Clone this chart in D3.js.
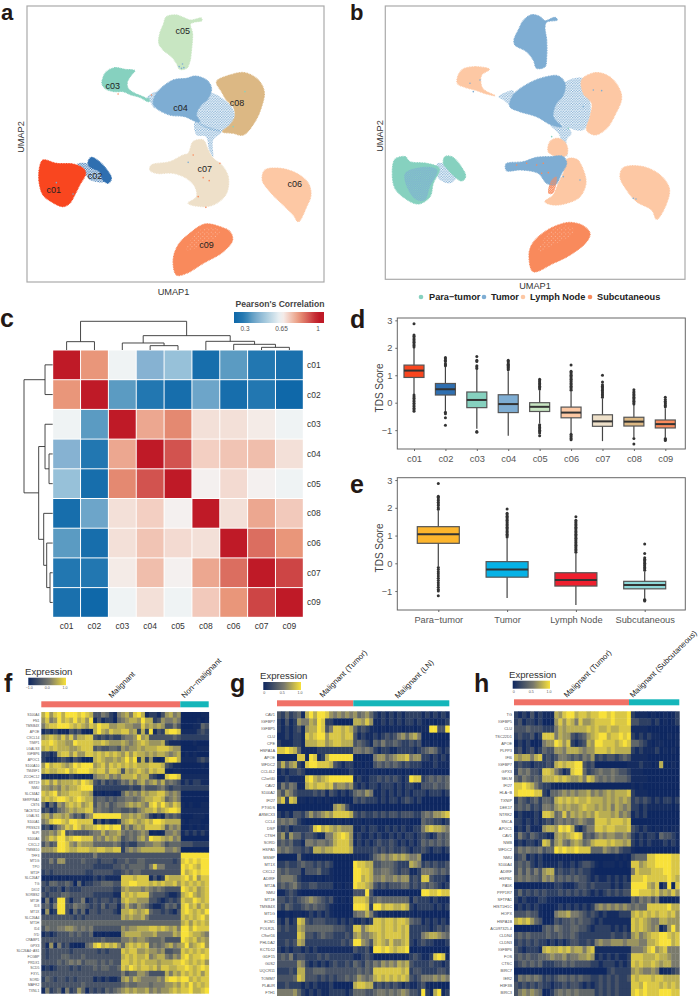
<!DOCTYPE html>
<html><head><meta charset="utf-8">
<script src="https://cdn.jsdelivr.net/npm/d3@7/dist/d3.min.js"></script>
<style>html,body{margin:0;padding:0;background:#fff}svg{display:block}text{font-family:"Liberation Sans",Arial,sans-serif}</style>
</head><body><svg id="c" width="700" height="996"></svg>
<script>
// ---------- UMAP colours
const cGreen='#86d1bf',cBlue='#7eadd3',cPeach='#fdc8a4',cOrange='#f98a5c';
const clusterColors={c01:'#f9461f',c02:'#2f6fb0',c03:cGreen,c04:cBlue,c05:'#c8e6c2',c06:cPeach,c07:'#eee0c9',c08:'#dcb884',c09:cOrange};
// ---------- UMAP panel a outlines (UMAP units)
const umapA=[
 ['c05','#c8e6c2',[[500,50],[530,45],[550,52],[570,60],[590,57],[604,54],[606,62],[585,66],[572,72],[578,100],[575,150],[570,185],[560,205],[540,208],[530,190],[515,170],[490,150],[477,130],[480,100],[490,75]]],
 ['c03',cGreen,[[320,215],[345,203],[375,208],[405,212],[395,225],[383,245],[385,265],[405,280],[425,288],[450,302],[445,305],[420,292],[395,285],[370,275],[345,275],[320,268],[307,252],[310,232]]],
 ['c07','#eee0c9',[[580,425],[610,420],[625,450],[640,475],[665,495],[685,530],[680,580],[650,610],[615,620],[565,610],[590,590],[585,560],[560,535],[520,520],[470,520],[450,510],[455,495],[510,485],[550,465],[565,460]]],
 ['c08','#dcb884',[[650,245],[690,225],[735,218],[775,240],[793,275],[785,320],[765,365],[730,405],[700,400],[668,395],[690,375],[705,350],[700,320],[680,300],[665,275]]],
 ['c04',cBlue,[[470,280],[520,240],[560,235],[585,228],[620,240],[635,265],[625,295],[600,320],[590,345],[600,365],[590,365],[555,350],[510,345],[470,325],[460,310]]],
 ['c06',cPeach,[[795,510],[840,505],[890,520],[925,550],[933,585],[920,620],[895,665],[880,645],[850,615],[810,575],[787,540]]],
 ['c09',cOrange,[[615,672],[660,680],[690,695],[698,720],[670,755],[610,790],[560,820],[530,825],[520,780],[535,735],[570,700]]],
 ['c01','#f9461f',[[130,480],[170,490],[220,492],[250,505],[258,520],[240,555],[225,585],[210,610],[190,620],[155,605],[130,585],[118,545],[120,500]]],
 ['c02','#2f6fb0',[[275,472],[295,482],[320,508],[335,535],[325,550],[310,540],[300,515],[270,500],[265,485]]]
];
const sparseA=[
 [cBlue,[[600,320],[630,280],[660,290],[695,320],[705,350],[690,380],[660,395],[620,385],[590,365],[590,345]]],
 [cBlue,[[585,365],[625,380],[665,395],[640,420],[640,470],[628,450],[618,410],[590,405]]],
 [cBlue,[[440,295],[470,275],[465,325],[450,305]]],
 ['#2f6fb0',[[232,492],[265,490],[305,520],[315,545],[270,540],[255,520]]]
];
const holesA=[[[600,690],[650,685],[660,700],[600,740],[560,750]]];
const straysA=[[355,282,'#f98a5c'],[565,487,cBlue],[660,490,cOrange],[610,533,cOrange],[628,542,cOrange],[595,590,cOrange],[618,622,cOrange],[580,465,cOrange],[170,548,cBlue],[220,582,cBlue],[735,275,cGreen],[700,380,cGreen],[455,285,cOrange],[447,295,cGreen],[545,205,cBlue],[552,203,cBlue],[538,200,cBlue],[548,192,cBlue]];
const labelsA=[['c01',162,570],['c02',286,529],['c03',339,257],['c04',542,323],['c05',549,93],['c06',884,552],['c07',615,508],['c08',711,310],['c09',620,735]];
// ---------- UMAP panel b outlines
const umapB=[
 [cBlue,[[520,62],[545,44],[570,50],[585,62],[615,52],[622,60],[590,66],[585,80],[590,120],[590,170],[585,200],[560,205],[550,180],[530,155],[495,135],[492,120],[505,90]]],
 [cPeach,[[340,207],[375,200],[418,208],[395,225],[393,250],[400,268],[435,287],[410,282],[375,270],[345,262],[322,250],[325,225]]],
 [cPeach,[[695,240],[735,218],[775,228],[805,260],[815,295],[795,345],[770,385],[735,405],[710,390],[720,350],[725,310],[700,280]]],
 [cBlue,[[490,285],[540,248],[590,230],[625,228],[645,250],[640,285],[620,310],[610,350],[635,380],[605,375],[560,350],[510,335],[480,320]]],
 [cPeach,[[600,425],[625,415],[650,435],[650,465],[625,470],[595,455]]],
 [cPeach,[[650,478],[680,478],[700,510],[708,550],[690,590],[650,610],[610,615],[585,605],[610,585],[625,550],[640,520]]],
 [cBlue,[[468,492],[520,485],[560,472],[600,470],[640,470],[650,490],[635,520],[615,555],[590,550],[565,520],[510,510],[470,512]]],
 [cPeach,[[820,503],[880,500],[930,525],[958,565],[950,610],[920,658],[905,630],[860,605],[830,570],[810,530]]],
 [cOrange,[[650,668],[695,675],[720,700],[710,725],[660,765],[610,790],[550,815],[537,770],[545,735],[585,695]]],
 [cGreen,[[135,478],[165,470],[180,485],[230,490],[268,505],[250,550],[240,590],[205,612],[165,595],[135,565],[127,520]]],
 [cGreen,[[285,470],[305,470],[330,495],[347,530],[335,543],[315,530],[295,510],[280,490]]]
];
const sparseB=[
 [cBlue,[[640,250],[700,235],[720,300],[720,350],[700,390],[660,385],[610,350],[625,300]]],
 [cBlue,[[600,375],[650,380],[665,400],[650,420],[652,470],[640,440],[625,400]]],
 [cBlue,[[445,290],[490,272],[485,320],[460,300]]],
 [cBlue,[[165,520],[230,500],[262,510],[240,560],[225,600],[200,600],[175,570]]],
 [cBlue,[[262,490],[290,495],[320,530],[300,550],[265,535]]],
 [cOrange,[[595,580],[605,540],[620,530],[612,575],[605,582]]]
];
const holesB=[[[610,685],[665,680],[670,700],[610,735],[565,755]]];
const straysB=[[500,495,cOrange],[530,490,cOrange],[560,495,cOrange],[580,490,cOrange],[575,520,cOrange],[595,518,cOrange],[640,530,cBlue],[690,540,cBlue],[850,595,cBlue],[858,597,cBlue],[730,270,cBlue],[755,272,cBlue],[700,320,cBlue],[390,240,cBlue],[360,250,cBlue],[370,275,cBlue],[605,410,cGreen],[655,385,cGreen]];
const legendB=[['Para−tumor',cGreen,421,429],['Tumor',cBlue,484,491],['Lymph Node',cPeach,523,530],['Subcutaneous',cOrange,590,597]];
// ---------- correlation heatmap
const corrNames=['c01','c02','c03','c04','c05','c08','c06','c07','c09'];
const corrValues=[
 [1,.82,.64,.43,.47,.23,.36,.27,.24],
 [.82,1,.36,.27,.23,.39,.23,.27,.2],
 [.64,.36,1,.79,.84,.69,.69,.67,.64],
 [.43,.27,.79,1,.92,.72,.74,.75,.69],
 [.47,.23,.84,.92,1,.66,.7,.66,.64],
 [.23,.39,.69,.72,.66,1,.69,.79,.73],
 [.36,.23,.69,.74,.7,.69,1,.88,.82],
 [.27,.27,.67,.75,.66,.79,.88,1,.94],
 [.24,.2,.64,.69,.64,.73,.82,.94,1]];
const corrTicks=[0.3,0.65,1];
// dendrogram merges: [leafA, heightA, leafB, heightB, height]
const dendroTop=[[0,0,1,0,25],[3,0,4,0,13],[2,0,3.5,13,21],[7,0,8,0,8],[6,0,7.5,8,17],[5,0,6.75,17,26],[2.75,21,5.875,26,43],[.5,25,4.31,43,86]];
const dendroLeft=[[0,0,1,0,23],[3,0,4,0,11],[2,0,3.5,11,23],[7,0,8,0,8],[6,0,7.5,8,18],[5,0,6.75,18,27],[2.75,23,5.875,27,42],[.5,23,4.31,42,86]];
// ---------- box plots: name, q1, median, q3, whisker low, whisker high, outliers
const boxD=[
 ['c01',.92,1.17,1.37,.3,2.0,[2.88,2.47,2.42,2.36,2.3,2.25,2.2,2.14,2.08,2.03,.28,.22,.16,.1,.04,-.02,-.08,-.14,-.2,-.26,-.31]],
 ['c02',.28,.49,.7,-.3,1.3,[1.35,1.38,1.42,1.5,1.55,1.6,1.65,-.35,-.4,-.55,-.82]],
 ['c03',-.18,.1,.39,-.95,1.2,[1.25,1.3,1.35,1.5,1.55,1.68,-1.05,-1.08]],
 ['c04',-.36,-.05,.29,-1.2,1.15,[1.2,1.24,1.28,1.32,1.36,1.4,1.45,1.5,1.55]],
 ['c05',-.32,-.15,0,-.75,.45,[.5,.55,.6,.65,.7,.75,.8,.85,-.8,-.85,-.9,-.95,-1,-1.05,-1.1,-1.2]],
 ['c06',-.55,-.36,-.16,-1.1,.4,[.45,.5,.55,.6,.65,.7,.75,.8,.85,.9,.95,1,1.05,1.1,1.15,1.37,-1.15,-1.2,-1.25,-1.3,-1.35]],
 ['c07',-.86,-.68,-.44,-1.4,.15,[.2,.25,.3,.35,.4,.45,.5,.55,.6,.65,.75,1.0]],
 ['c08',-.85,-.69,-.53,-1.25,-.08,[-.05,0,.05,.1,.15,.2,.25,.3,.35,.4,.47,-1.3,-1.5]],
 ['c09',-.92,-.78,-.63,-1.25,-.2,[-.15,-.1,-.05,0,.05,.12,.2,-1.3,-1.34,-1.38]]
];
const boxE=[
 ['Para−tumor',.72,1.05,1.32,-.1,1.9,[2.88,2.42,2.38,2.32,2.26,2.2,2.14,2.08,2.0,1.95,-.15,-.22,-.3,-.38,-.46,-.54,-.62,-.7,-.78,-.86,-.94,-1.0,-1.17]],
 ['Tumor',-.5,-.22,.06,-1.25,.9,[.95,1,1.05,1.1,1.15,1.2,1.25,1.3,1.35,1.4,1.45,1.5,1.55,1.6,1.65,1.7,1.75,1.8,1.96]],
 ['Lymph Node',-.82,-.6,-.34,-1.5,.35,[.4,.45,.5,.55,.6,.65,.7,.75,.8,.85,.9,.95,1,1.05,1.1,1.15,1.2,1.25,1.3,1.35,1.4,1.45,1.5,1.55,1.68]],
 ['Subcutaneous',-.92,-.78,-.65,-1.25,-.3,[-.25,-.2,-.15,-.1,-.05,0,.05,.1,.15,.2,.35,.7,-1.3,-1.33,-1.36]]
];
const boxColorsE=['#fdb52d','#06b2e6','#ee1f2e','#8ed8d8'];
const scoreTicks=[-1,0,1,2,3];
// ---------- expression heatmaps (one digit per cell, 0 low .. 9 high)
const fGenes=['S100A4','FN1','TMSB4X','APOE','CXCL14','TIMP1','LGALS3','IGFBP6','APOC1','S100A10','TM4SF1','ZCCHC12','KRT19','NMU','SLC34A2','SERPINA1','CST6','TACSTD2','LGALS1','S100A1','PRSS23','SLPI','S100A6','CXCL2','TMSB10','TFF3','MT1G','TPO','MT1F','SLC26A7','TG','DIO2','SORBS2','MT1E','ID3','MT1X','SLC26A4','MT1H','ID4','IYD','CRABP1','GPX3','SLC26A4−AS1','FCGBP','PRDX1','SCD5','FXYL','SORD','MAFK2','TXNL1'];
const fRows=[
"7968979998987 3354215 6758971 2213 6756 0000011",
"6856978797869 1312204 5677697 7236 5565 0000101",
"5788999878768 7988667 7665586 7676 3353 0001143",
"1212010323100 7976877 8867272 9132 8998 1111232",
"6787686857788 3232322 4556967 3333 3343 2222222",
"8898776698888 7787666 7656787 6667 2111 0001000",
"7878777667888 3433443 6566767 7788 8766 0000111",
"2212788686688 7878787 6868776 7677 6567 0101000",
"2101232132000 7876676 7979272 6101 8997 1111232",
"6978876798999 6786878 7878777 8887 3211 0000010",
"7877889789998 7886887 3767876 8788 1011 0000000",
"1011011211010 5667565 7778677 3211 8998 1111111",
"7868677787987 3242323 5464675 6757 4543 1212211",
"6656576778999 2222222 2232253 3345 3233 2222222",
"8789677888776 0101101 4656576 7788 6565 0000000",
"7878998789877 3443434 4554567 7887 4565 0000000",
"4142657878678 3545345 5676765 8979 7687 1010011",
"2312456767788 4544344 3343567 7867 8998 1111111",
"6757767534256 9999999 6676765 2121 4343 0001110",
"5689987998888 0302112 6787678 7998 7777 1011100",
"2313568798677 8989899 4646768 8887 4656 0010101",
"5565793433334 5575667 5454565 0101 5565 1212121",
"5687997899888 5657676 3454675 9887 6756 0000000",
"3534998657666 4444454 2322445 5665 3444 3332222",
"6667998778887 7887788 2565677 7777 5565 0000000",
"3333333333333 5333333 3333333 3333 3333 9999999",
"3353663333433 3233323 3433443 3333 3323 8989899",
"3333333333333 2222233 4344443 5855 3333 9898799",
"2323333333322 3333322 3434433 3333 3333 9789899",
"0101010111101 2121111 8887888 1312 8777 8979688",
"3244334304122 3344433 8899888 7878 7786 8787878",
"2322313222333 3333322 6766656 5454 3333 9878678",
"3233344333333 2222211 8787888 4333 2112 7897678",
"1513993133512 3233232 7877666 3321 2323 8779878",
"3425993354432 3242331 5754654 2112 4342 8978687",
"1612993142413 3233321 7787678 4332 3213 8987879",
"3333333323233 3333333 7676675 3333 3333 8787897",
"4444444444444 4444444 4444444 4444 4444 7868787",
"3544556654545 3333333 6566777 8878 7675 9979888",
"1212333434334 0101000 6777766 6755 5576 9987765",
"3333333333333 3343333 5565665 4445 3333 9878676",
"3161523100145 8978786 4787878 4545 6756 7967896",
"3233333233333 3232333 8788667 6656 3344 8787878",
"3233344333433 3333333 7878778 5677 5465 8978898",
"3333434545344 4343433 8878787 7767 7788 9878786",
"1212333232333 4344334 8798788 7868 8778 8987898",
"3333333333333 3333333 5344665 3333 7576 8787868",
"2432332323333 1212112 6757655 5565 8998 9978788",
"3333333333433 3333333 4544555 4555 6676 8797878",
"1523415236413 2324345 6767667 5656 6787 8897789"];
const gGenes=['CAV1','IGFBP7','IGFBP5','CLU','CPE','HSPA1A','APOE','WFDC2','CCL4L2','C2orf40','CAV2','S100A2','IFI27','PTGDS','ARMCX3','CCL4','DSP','CTSH','SORD','HSPA5','MSMP','MT1X','CXCL2','ADIRF','MT2A','NMU','MT1E','TMSB4X','MT1G','ECM1','POLR2L','C9orf16','PHLDA2','KCTD12','GDF15','G0S2','UQCR11','TOMM7','PLAUR','FTH1'];
const gRows=[
"32423 41 7979986 56565 64564 212121212 222 1212121",
"21312 65 5769822 00000 77686 112121212 212 1010112",
"21212 31 6779835 88787 42321 101011101 101 1199339",
"11212 21 8789968 88788 31211 212323564 675 0000000",
"21112 21 7778867 88777 34321 435334322 323 0101001",
"88987 41 1112222 22222 55454 212211222 212 3454212",
"00000 88 1981279 99999 00000 566456778 566 2212121",
"47467 21 8998887 32122 01010 343434323 222 1112111",
"12122 32 0000000 00112 10101 101010101 010 0010000",
"11211 11 8976789 99999 12112 232323212 988 2343434",
"25354 11 7878878 56656 21212 212221212 211 3334334",
"53653 22 2232313 21212 45465 112121212 122 2122212",
"68287 11 0101010 00000 32322 212122123 212 0000000",
"00000 00 0000000 67631 00000 000000000 000 0000000",
"21213 32 4645676 88887 32322 323233233 322 4546678",
"45454 21 0000000 01010 11011 000000011 000 4332212",
"32312 22 2389787 67666 11212 211212121 122 5787765",
"46264 42 3321155 78986 12112 121121212 212 3212434",
"34342 21 5545545 78886 12121 232232121 212 4343434",
"54543 32 3277677 88887 22222 323232232 122 3212212",
"00000 41 0000000 00000 11112 456567676 556 0000000",
"22322 34 3323232 00000 98877 334443222 765 2323223",
"43433 31 3334221 00000 99887 445543233 112 5554343",
"45554 21 1101011 00000 99787 556556566 232 8832221",
"34345 32 2332222 01011 98876 323233344 232 4343212",
"11232 10 0000000 00000 33393 000000000 000 9988988",
"33232 34 5654323 10101 88873 454444444 132 2212111",
"32432 23 4343321 00000 99982 997887787 212 2221212",
"00101 10 1212121 00000 45575 211010011 101 0000000",
"21312 87 3233322 21212 11212 887887887 433 1212121",
"32322 76 4444444 33322 88578 887887878 222 2212323",
"22222 87 3323433 22232 67556 787888878 222 5677654",
"22323 76 2222222 22323 99653 787686678 212 3221112",
"21212 21 2121111 11111 32231 998987889 001 0000000",
"34352 33 2223232 22222 11232 000010101 232 1128981",
"33333 65 2121212 32232 43243 546565767 322 2232212",
"22232 77 3344433 33333 34343 888888878 233 2222332",
"33334 87 3332323 23343 46545 787878787 323 5556565",
"22322 21 2121112 00000 78877 232323212 112 3101000",
"55556 42 1212112 22212 44433 455454565 332 9217912"];
const hGenes=['TG','IGFBP5','CLU','TSC22D1','APOE','PLPP3','IFI6','IGFBP7','GPX3','SELM','IFI27','HLA−B','TXNIP','DEK17','NTRK2','SNCA','APOC1','CAV1','NMB','WFDC2','NMU','S100A4','ADIRF','HSPB1','PA5K','PPP1R7','SFTPA1','HIST1H1C','HOPX','HSPA1B','AC097325.4','CLDN4','CLDN3','IGFBP6','FOS','CTSC','BIRC7','IER2','H3F3B','BIRC3'];
const hRows=[
"2121312 111 7689978878 899898889 2111 010 01012",
"2312212 000 6868758667 888898889 3322 212 01012",
"3334333 222 5767777787 877877888 1111 000 00000",
"2322312 888 5766323467 899788989 2121 211 00101",
"1212001 566 9868212376 998887898 4432 101 10001",
"2312312 433 6657776566 888787777 2121 112 01010",
"7677578 232 3554343546 232332343 1111 000 00000",
"2322122 232 7878899323 000000001 1121 101 70010",
"2545332 887 5312899423 454454332 1110 000 00000",
"4354343 777 8787667587 545454443 1111 000 00000",
"8898753 221 0000000000 000000000 1010 000 00000",
"8999988 214 4565656675 656767778 2111 000 00000",
"2432342 443 7878787787 776767676 2323 212 12212",
"3434232 554 6767667877 676757656 2212 111 11101",
"1211121 887 4585767676 877767565 1212 000 00000",
"2212121 232 4545456544 888788878 0000 000 00000",
"1213111 677 6989721355 887887778 3212 101 01011",
"2532432 211 6767898343 565665565 2121 221 43321",
"1212212 873 6754676457 888787767 2121 211 12121",
"3545445 344 9898898884 446545322 1000 000 00000",
"2341212 000 0000000000 000001010 3444 889 99988",
"3434212 111 1211212332 101110101 8867 889 99988",
"3535353 677 2322323221 000000000 5877 788 89988",
"4545443 656 3434343321 211212121 8889 888 88987",
"0000000 111 2211123323 222212122 9999 768 02908",
"2423232 322 2323232321 212323233 9988 878 67686",
"2121112 211 0000000000 000000000 4354 535 00001",
"1212121 000 1212121212 565656565 4544 888 88977",
"3334331 000 5667554323 212111222 7878 787 88786",
"7878643 001 3233434332 121111111 8787 655 77666",
"0000000 343 5433443321 222212121 8787 656 02696",
"3434333 343 3433432222 222232232 6756 788 99878",
"2323232 212 1212332232 565566656 6655 778 99978",
"3212221 787 7878677578 111111111 5556 896 78555",
"3434334 456 5564556676 121212112 8887 778 77655",
"2343434 222 3343433332 212221212 8787 787 67755",
"0000000 000 0000000000 000232222 6765 565 01123",
"2545454 232 3443434332 232323223 8788 878 87777",
"3232323 221 2232332121 232323222 8879 888 78787",
"3565654 012 4545454444 232323222 8989 888 99988"];

// ================= drawing
const svg=d3.select('#c');
const defs=svg.append('defs');
const FS='"Liberation Sans",Arial,sans-serif';
function txt(g,s,x,y,o={}){const t=g.append('text').attr('x',x).attr('y',y).text(s)
  .attr('font-size',o.fs||9).attr('fill',o.fill||'#333').attr('text-anchor',o.anchor||'start')
  .attr('font-weight',o.weight||'normal');if(o.rot!=null)t.attr('transform',`rotate(${o.rot} ${x} ${y})`);return t;}
// panel letters
[['a',1,20,22],['b',350,20,22],['c',0,327,25],['d',350,328,25],['e',350,493,25],['f',4,692,25],['g',230,692,25],['h',474,692,25]]
 .forEach(([s,x,y,fs])=>txt(svg,s,x,y,{fs,weight:'bold',fill:'#231815'}));

// dotted fill patterns
let patId=0;
function dotPattern(color,size=2.6,r=.75){const id='p'+(patId++);const p=defs.append('pattern').attr('id',id)
  .attr('patternUnits','userSpaceOnUse').attr('width',size).attr('height',size);
  p.append('circle').attr('cx',size/4).attr('cy',size/4).attr('r',r).attr('fill',color);
  p.append('circle').attr('cx',size*3/4).attr('cy',size*3/4).attr('r',r).attr('fill',color);
  return `url(#${id})`;}
function umap(g,xs,ys,polys,sparse,holes,strays,box){
  const line=d3.line().x(d=>xs(d[0])).y(d=>ys(d[1])).curve(d3.curveCatmullRomClosed.alpha(.5));
  sparse.forEach(([c,pts])=>g.append('path').attr('d',line(pts)).attr('fill',dotPattern(c)));
  polys.forEach(p=>{const c=p[p.length-2],pts=p[p.length-1];
    g.append('path').attr('d',line(pts)).attr('fill',c).attr('stroke',c).attr('stroke-width',1.2).attr('stroke-dasharray','.9 .7');});
  sparse.filter(s=>s[0]===cBlue&&box==='b'&&s[1][0][0]===165||s[0]===cOrange).forEach(([c,pts])=>g.append('path').attr('d',line(pts)).attr('fill',dotPattern(c,2.2,.7)));
  holes.forEach(pts=>g.append('path').attr('d',line(pts)).attr('fill',dotPattern('#fff',4.2,.35)));
  g.selectAll('.st').data(strays).join('circle').attr('cx',d=>xs(d[0])).attr('cy',d=>ys(d[1])).attr('r',.8).attr('fill',d=>d[2]);
}
// panel a
{const x=d3.scaleLinear([82,972],[27,324]),y=d3.scaleLinear([846,18],[282,6]);
 const g=svg.append('g');
 umap(g,x,y,umapA,sparseA,holesA,straysA,'a');
 g.append('rect').attr('x',27).attr('y',6).attr('width',297).attr('height',276).attr('fill','none').attr('stroke','#aaa').attr('stroke-width',1.2);
 labelsA.forEach(([s,a,b])=>txt(g,s,x(a),y(b)+3,{fs:9,anchor:'middle',fill:'#222'}));
 txt(g,'UMAP1',173.5,295,{fs:9.2,anchor:'middle'});
 txt(g,'UMAP2',24,137,{fs:9.2,anchor:'middle',rot:-90});
}
// panel b
{const x=d3.scaleLinear([106,1005],[385.3,685]),y=d3.scaleLinear([838,18],[279.3,6]);
 const g=svg.append('g');
 umap(g,x,y,umapB,sparseB,holesB,straysB,'b');
 g.append('rect').attr('x',385.3).attr('y',6).attr('width',299.7).attr('height',273.3).attr('fill','none').attr('stroke','#aaa').attr('stroke-width',1.2);
 txt(g,'UMAP1',535,289,{fs:9.2,anchor:'middle'});
 txt(g,'UMAP2',383,136,{fs:9.2,anchor:'middle',rot:-90});
 legendB.forEach(([s,c,cx,tx])=>{g.append('circle').attr('cx',cx).attr('cy',297).attr('r',2.3).attr('fill',c);
   txt(g,s,tx,300,{fs:9.2,weight:'bold',fill:'#222'});});
}
// panel c
{const g=svg.append('g');
 const x=d3.scaleBand(corrNames,[52.7,303.3]),y=d3.scaleBand(corrNames,[350,617.3]);
 const col=d3.scaleLinear().domain([.2,.3,.36,.43,.47,.65,.72,.82,.92,1])
   .range(['#0f68a9','#2a7db4','#5b9bc2','#86b2d2','#97c1d9','#f4f6f6','#f3cfc2','#e9967a','#d2534f','#bf1a27']);
 corrValues.forEach((r,i)=>r.forEach((v,j)=>g.append('rect').attr('x',x(corrNames[j])+.5).attr('y',y(corrNames[i])+.5)
   .attr('width',x.bandwidth()-1).attr('height',y.bandwidth()-1).attr('fill',col(v))));
 corrNames.forEach(n=>{txt(g,n,307,y(n)+y.bandwidth()/2+3,{fs:8.5});
   txt(g,n,x(n)+x.bandwidth()/2,629,{fs:8.5,anchor:'middle'});});
 const lx=d3.scaleLinear([0,8],[x('c01')+x.bandwidth()/2,x('c09')+x.bandwidth()/2]),
       ly=d3.scaleLinear([0,8],[y('c01')+y.bandwidth()/2,y('c09')+y.bandwidth()/2]),
       ht=d3.scaleLinear([0,86],[350,321.3]),hl=d3.scaleLinear([0,86],[52.7,24]);
 dendroTop.forEach(([a,ha,b,hb,h])=>g.append('path').attr('d',`M${lx(a)},${ht(ha)}V${ht(h)}H${lx(b)}V${ht(hb)}`).attr('fill','none').attr('stroke','#333').attr('stroke-width',.9));
 dendroLeft.forEach(([a,ha,b,hb,h])=>g.append('path').attr('d',`M${hl(ha)},${ly(a)}H${hl(h)}V${ly(b)}H${hl(hb)}`).attr('fill','none').attr('stroke','#333').attr('stroke-width',.9));
 const cx=d3.scaleLinear([.3,1],[245,318]);
 const grad=defs.append('linearGradient').attr('id','corrGrad');
 d3.range(0,1.001,.05).forEach(t=>{const v=cx.invert(234+90*t);grad.append('stop').attr('offset',t).attr('stop-color',col(Math.min(1,v)));});
 g.append('rect').attr('x',234).attr('y',312).attr('width',90).attr('height',11).attr('fill','url(#corrGrad)');
 txt(g,"Pearson's Correlation",280,307,{fs:8.6,weight:'bold',anchor:'middle',fill:'#444'});
 corrTicks.forEach(v=>txt(g,v,cx(v),331,{fs:6.5,anchor:'middle',fill:'#555'}));
}
// box panels
function boxPanel(data,colors,top,bottom,y0,unit,xVals,bw,title,titleY){
 const g=svg.append('g');
 const y=d3.scaleLinear([(y0-bottom)/unit,(y0-top)/unit],[bottom,top]);
 const x=d3.scalePoint(data.map(d=>d[0]),xVals);
 g.append('rect').attr('x',397.3).attr('y',top).attr('width',288).attr('height',bottom-top).attr('fill','none').attr('stroke','#666');
 const ax=g.append('g').attr('transform','translate(397.3,0)').call(d3.axisLeft(y).tickValues(scoreTicks).tickFormat(d3.format('d')).tickSize(2).tickSizeOuter(0));
 const ax2=g.append('g').attr('transform',`translate(0,${bottom})`).call(d3.axisBottom(x).tickSize(2).tickSizeOuter(0));
 [ax,ax2].forEach(a=>{a.select('.domain').remove();a.selectAll('line').attr('stroke','#666');
   a.selectAll('text').attr('font-size',9.3).attr('fill','#555').attr('font-family',FS);});
 ax2.selectAll('text').attr('dy','.85em');
 data.forEach((d,i)=>{const [n,q1,m,q3,lo,hi,out]=d,cx=x(n);
  g.append('line').attr('x1',cx).attr('x2',cx).attr('y1',y(lo)).attr('y2',y(hi)).attr('stroke','#444').attr('stroke-width',1.2);
  g.selectAll(null).data(out).join('circle').attr('cx',cx).attr('cy',v=>y(v)).attr('r',1.5).attr('fill','#333');
  g.append('rect').attr('x',cx-bw/2).attr('width',bw).attr('y',y(q3)).attr('height',y(q1)-y(q3)).attr('fill',colors[i]).attr('stroke','#555').attr('stroke-width',1.2);
  g.append('line').attr('x1',cx-bw/2).attr('x2',cx+bw/2).attr('y1',y(m)).attr('y2',y(m)).attr('stroke','#333').attr('stroke-width',2);
 });
 txt(g,title,380+3,titleY,{fs:10,anchor:'middle',rot:-90,fill:'#444'});
}
boxPanel(boxD,boxD.map(d=>clusterColors[d[0]]),318,449,402.7,27.45,[414,665.3],20,'TDS Score',388);
boxPanel(boxE,boxColorsE,477.7,610,563.3,27.75,[438.3,644.7],42,'TDS Score',548);

// expression heatmaps
const heatCol=d3.scaleLinear().domain([0,1,5,9]).range(['#0e2760','#152c60','#7a7a6c','#f8e13a']);
const annPink='#f07167',annTeal='#14b6ba';
function heat(genes,rows,o){
 const g=svg.append('g');
 const cells=rows.map(r=>r.replace(/ /g,'').split('').map(Number));
 const nc=cells[0].length;
 const x=d3.scaleBand(d3.range(nc),[o.x0,o.x1]),y=d3.scaleBand(genes,[o.y0,o.y1]);
 cells.forEach((r,i)=>r.forEach((v,j)=>g.append('rect').attr('x',x(j)).attr('y',y(genes[i]))
   .attr('width',x.bandwidth()+.4).attr('height',y.bandwidth()+.4).attr('fill',heatCol(v))));
 genes.forEach(n=>txt(g,n,o.x0-2,y(n)+y.bandwidth()/2+1.3,{fs:o.lfs,anchor:'end',fill:'#555'}));
 g.append('rect').attr('x',o.x0).attr('width',o.split-o.x0).attr('y',o.ay).attr('height',6).attr('fill',annPink);
 g.append('rect').attr('x',o.split).attr('width',o.x1-o.split).attr('y',o.ay).attr('height',6).attr('fill',annTeal);
 o.heads.forEach(([s,a,b])=>txt(g,s,a,b,{fs:7.8,rot:-45,fill:'#222'}));
 txt(g,'Expression',o.lx,o.ly,{fs:9.6,fill:'#333'});
 const id='hg'+o.lx;const gr=defs.append('linearGradient').attr('id',id);
 [0,5/9,1].forEach((t,i)=>gr.append('stop').attr('offset',t).attr('stop-color',heatCol([0,5,9][i])));
 g.append('rect').attr('x',o.cb[0]).attr('y',o.cb[1]).attr('width',o.cb[2]).attr('height',o.cb[3]).attr('fill',`url(#${id})`);
 const tx=d3.scaleLinear([0,1],[o.cb[0]+1,o.cb[0]+o.cb[2]-1]);
 o.ticks.forEach((s,i)=>txt(g,s,tx(i/2),o.cb[1]+o.cb[3]+4,{fs:3.6,anchor:'middle',fill:'#555'}));
}
heat(fGenes,fRows,{x0:41.3,x1:208.7,y0:712,y1:993.3,split:180.3,ay:701.3,lfs:3.4,lx:25,ly:674.5,cb:[28.3,677.7,37.7,7.5],ticks:['−1.0','0.0','1.0'],
  heads:[['Malignant',111.7,698.5],['Non−malignant',184.5,698.5]]});
heat(gGenes,gRows,{x0:277,x1:449.3,y0:711.3,y1:996,split:353.3,ay:700.3,lfs:3.9,lx:260,ly:678.5,cb:[263.3,682,37.7,8],ticks:['0','0.5','1.0'],
  heads:[['Malignant (Tumor)',322.7,698],['Malignant (LN)',398,699]]});
heat(hGenes,hRows,{x0:514,x1:679.3,y0:711.3,y1:996,split:629,ay:699.3,lfs:3.9,lx:509,ly:677.5,cb:[512.7,680.7,37.3,8],ticks:['0','0.5','1.0'],
  heads:[['Malignant (Tumor)',567,698],['Malignant (Subcutaneous)',633,698]]});
</script></body></html>
